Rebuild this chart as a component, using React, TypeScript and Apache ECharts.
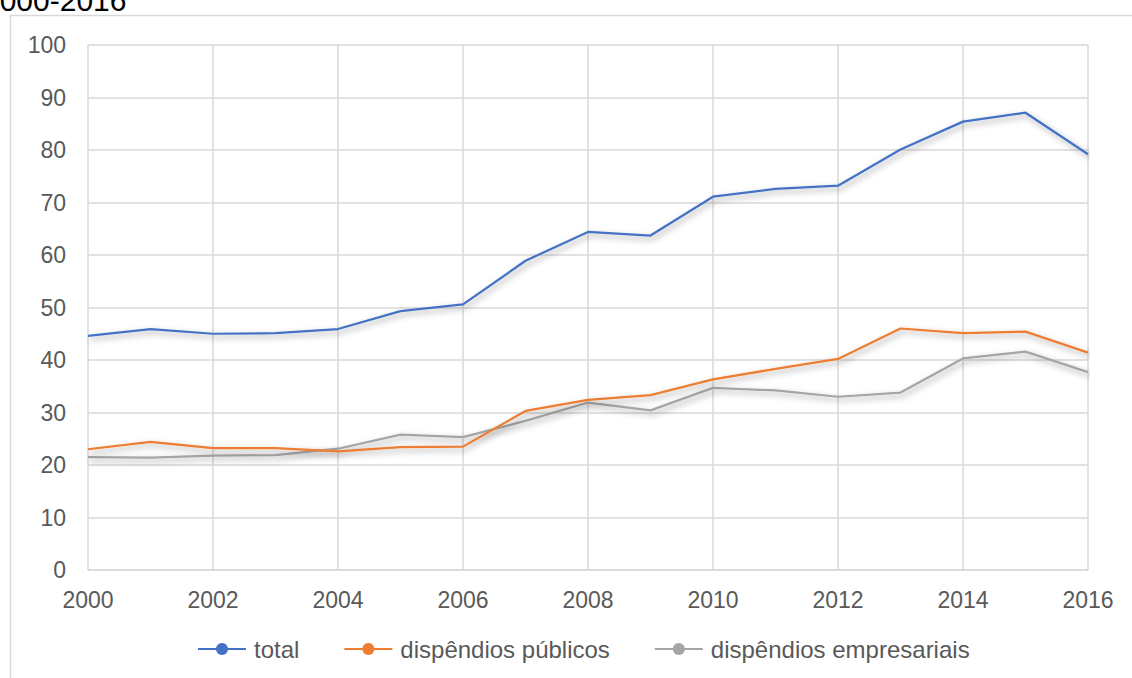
import React, { useEffect, useRef } from "react";
import * as echarts from "echarts";

// Years on the horizontal axis
const years = [2000, 2001, 2002, 2003, 2004, 2005, 2006, 2007, 2008, 2009, 2010, 2011, 2012, 2013, 2014, 2015, 2016];

// Expenditure series
const total = [44.6, 45.9, 45.0, 45.1, 45.9, 49.3, 50.6, 58.9, 64.4, 63.7, 71.1, 72.6, 73.2, 80.1, 85.4, 87.1, 79.2];
const publicos = [23.0, 24.4, 23.2, 23.2, 22.6, 23.4, 23.5, 30.3, 32.4, 33.3, 36.3, 38.3, 40.2, 46.0, 45.1, 45.4, 41.4];
const empresariais = [21.5, 21.4, 21.8, 21.9, 23.1, 25.8, 25.3, 28.4, 31.9, 30.4, 34.7, 34.2, 33.0, 33.8, 40.3, 41.6, 37.7];

const seriesNames = ["total", "dispêndios públicos", "dispêndios empresariais"];
const seriesColors = ["#4472C4", "#ED7D31", "#A5A5A5"];

const FONT = "'Liberation Sans', Arial, sans-serif";

export default function App() {
  const ref = useRef<HTMLDivElement>(null);

  useEffect(() => {
    if (!ref.current) return;
    const chart = echarts.init(ref.current, null, { renderer: "svg" });
    const values = [total, publicos, empresariais];

    chart.setOption({
      animation: false,
      backgroundColor: "#ffffff",
      textStyle: { fontFamily: FONT },
      graphic: [
        {
          type: "rect",
          shape: { x: 10.5, y: 15.5, width: 1400, height: 900 },
          style: { fill: "none", stroke: "#D9D9D9", lineWidth: 1.5 },
          silent: true,
        },
        {
          type: "text",
          x: -17,
          y: -15,
          style: {
            text: "2000-2016",
            fill: "#000000",
            font: `30px ${FONT}`,
            verticalAlign: "top",
          },
          silent: true,
        },
      ],
      grid: { left: 88, right: 44, top: 45, bottom: 108, containLabel: false },
      legend: {
        bottom: 12,
        left: 192,
        itemWidth: 48,
        itemHeight: 15,
        itemGap: 44,
        textStyle: { fontSize: 24, color: "#595959", fontFamily: FONT, padding: [0, 0, 0, 3] },
        data: seriesNames,
      },
      xAxis: {
        type: "value",
        min: 2000,
        max: 2016,
        interval: 2,
        axisLine: { show: true, lineStyle: { color: "#D9D9D9", width: 1.5 } },
        axisTick: { show: false },
        axisLabel: {
          color: "#595959",
          fontSize: 23,
          margin: 18,
          fontFamily: FONT,
          formatter: (v: number) => String(v),
        },
        splitLine: { show: true, lineStyle: { color: "#D9D9D9", width: 1.5 } },
      },
      yAxis: {
        type: "value",
        min: 0,
        max: 100,
        interval: 10,
        axisLine: { show: false },
        axisTick: { show: false },
        axisLabel: { color: "#595959", fontSize: 23, margin: 22, fontFamily: FONT },
        splitLine: { show: true, lineStyle: { color: "#D9D9D9", width: 1.5 } },
      },
      series: seriesNames.map((name, i) => ({
        name,
        type: "line",
        data: years.map((y, j) => [y, values[i][j]]),
        symbol: "circle",
        symbolSize: 8,
        showSymbol: false,
        color: seriesColors[i],
        lineStyle: {
          color: seriesColors[i],
          width: 2.25,
          shadowColor: "rgba(0,0,0,0.38)",
          shadowBlur: 6,
          shadowOffsetX: 2,
          shadowOffsetY: 3,
        },
        itemStyle: { color: seriesColors[i] },
        z: 3 - i,
      })),
    });

    return () => chart.dispose();
  }, []);

  return (
    <div
      ref={ref}
      style={{ position: "fixed", left: 0, top: 0, width: 1132, height: 678 }}
    />
  );
}
